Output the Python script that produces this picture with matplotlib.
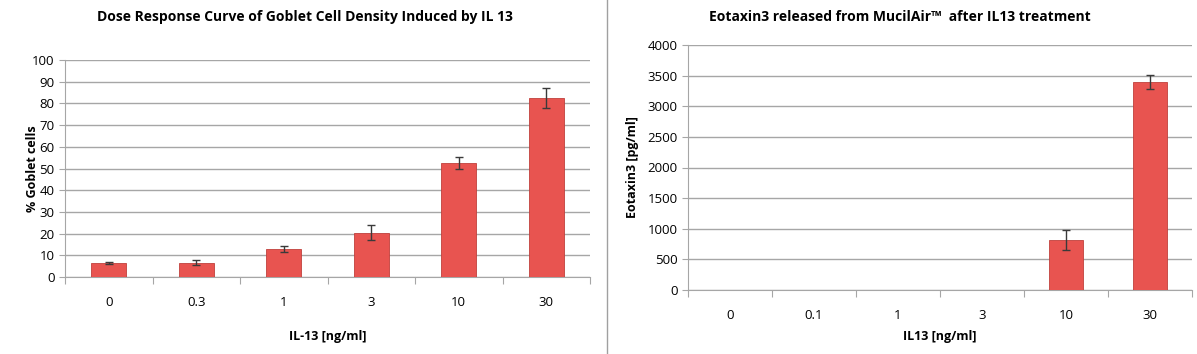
import matplotlib.pyplot as plt

# left chart: goblet cells
doses1 = ["0", "0.3", "1", "3", "10", "30"]
goblet = [6.5, 6.5, 13, 20.5, 52.5, 82.5]
goblet_err = [0.6, 1.2, 1.5, 3.3, 2.7, 4.7]

# right chart: eotaxin3
doses2 = ["0", "0.1", "1", "3", "10", "30"]
eotaxin = [0, 0, 0, 0, 810, 3390]
eotaxin_err = [0, 0, 0, 0, 165, 115]

bar_color = "#E85450"
grid_color = "#A6A6A6"
font = ["Open Sans", "DejaVu Sans"]
plt.rcParams["font.family"] = font

W, H = 1197, 354
fig = plt.figure(figsize=(W / 100, H / 100), dpi=100)


def style_axes(ax, n):
    for s in ["top", "right"]:
        ax.spines[s].set_visible(False)
    ax.spines["left"].set_color(grid_color)
    ax.spines["bottom"].set_color(grid_color)
    ax.yaxis.grid(True, color=grid_color, linewidth=1)
    ax.set_axisbelow(True)
    ax.set_xlim(-0.5, n - 0.5)
    ax.set_xticks([i - 0.5 for i in range(n + 1)], minor=False)
    ax.set_xticklabels([])
    ax.tick_params(axis="x", which="major", length=5, color=grid_color)
    ax.tick_params(axis="y", length=4, color=grid_color, labelsize=9.5)
    ax.set_xticks(range(n), minor=True)
    ax.tick_params(axis="x", which="minor", length=0, labelsize=9.5, pad=14)


def draw_bars(ax, labels, vals, errs):
    x = list(range(len(labels)))
    ax.bar(x, vals, width=0.4, color=bar_color, edgecolor="#C0403C", linewidth=0.6, zorder=3)
    for xi, v, e in zip(x, vals, errs):
        if v > 0:
            ax.errorbar(xi, v, yerr=e, fmt="none", ecolor="#3a3a3a", elinewidth=1, capsize=3, zorder=4)
    ax.set_xticklabels(labels, minor=True)


# left
ax1 = fig.add_axes([65 / W, 1 - 277 / H, 525 / W, 217 / H])
style_axes(ax1, len(doses1))
draw_bars(ax1, doses1, goblet, goblet_err)
ax1.set_ylim(0, 100)
ax1.set_yticks(range(0, 101, 10))
ax1.set_ylabel("% Goblet cells", fontsize=9, fontweight="bold")
ax1.yaxis.set_label_coords(-0.05, 0.5)
ax1.set_xlabel("IL-13 [ng/ml]", fontsize=9, fontweight="bold")
ax1.xaxis.set_label_coords(0.5, -0.244)
fig.text(305 / W, 1 - 17 / H, "Dose Response Curve of Goblet Cell Density Induced by IL 13",
         ha="center", va="center", fontsize=10, fontweight="bold")

# right
ax2 = fig.add_axes([688 / W, 1 - 290 / H, 504 / W, 245 / H])
style_axes(ax2, len(doses2))
draw_bars(ax2, doses2, eotaxin, eotaxin_err)
ax2.set_ylim(0, 4000)
ax2.set_yticks(range(0, 4001, 500))
ax2.set_ylabel("Eotaxin3 [pg/ml]", fontsize=9, fontweight="bold")
ax2.yaxis.set_label_coords(-0.097, 0.5)
ax2.set_xlabel("IL13 [ng/ml]", fontsize=9, fontweight="bold")
ax2.xaxis.set_label_coords(0.5, -0.163)
fig.text(900 / W, 1 - 17 / H, "Eotaxin3 released from MucilAir\u2122  after IL13 treatment",
         ha="center", va="center", fontsize=10, fontweight="bold")

# divider between the two charts
fig.add_artist(plt.Line2D([607 / W, 607 / W], [0, 1], color="#A0A0A0", linewidth=1))

fig.savefig("out.png", dpi=100)
